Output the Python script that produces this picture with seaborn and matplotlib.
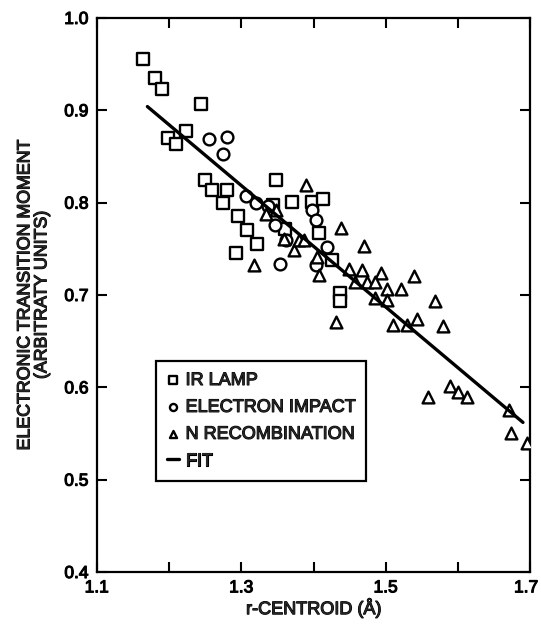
import numpy as np
import pandas as pd
import matplotlib
matplotlib.use('Agg')
import matplotlib.pyplot as plt
import matplotlib.patheffects as pe
import matplotlib.transforms as mtrans
import seaborn as sb

# IR lamp points (squares)
ir_x = [1.164, 1.180, 1.190, 1.244, 1.223, 1.198, 1.210, 1.250, 1.260, 1.280,
        1.274, 1.295, 1.308, 1.322, 1.292, 1.348, 1.370, 1.344, 1.360, 1.398,
        1.413, 1.408, 1.426, 1.437, 1.437]
ir_y = [0.955, 0.935, 0.923, 0.907, 0.878, 0.870, 0.863, 0.825, 0.814, 0.814,
        0.800, 0.785, 0.770, 0.755, 0.745, 0.824, 0.801, 0.797, 0.771, 0.801,
        0.804, 0.767, 0.738, 0.702, 0.694]

# electron impact points (circles)
ei_x = [1.255, 1.280, 1.275, 1.306, 1.320, 1.346, 1.354, 1.362, 1.398, 1.403,
        1.419, 1.404, 1.337]
ei_y = [0.869, 0.871, 0.853, 0.807, 0.800, 0.776, 0.733, 0.760, 0.792, 0.781,
        0.752, 0.732, 0.796]

# N recombination points (triangles)
nr_x = [1.334, 1.348, 1.390, 1.318, 1.359, 1.373, 1.380, 1.387, 1.405, 1.408,
        1.438, 1.470, 1.449, 1.467, 1.458, 1.493, 1.474, 1.485, 1.502, 1.521,
        1.539, 1.485, 1.502, 1.568, 1.510, 1.529, 1.543, 1.579, 1.431, 1.559,
        1.589, 1.600, 1.612, 1.671, 1.674, 1.695]
nr_y = [0.788, 0.792, 0.819, 0.732, 0.761, 0.749, 0.760, 0.760, 0.741, 0.722,
        0.773, 0.753, 0.728, 0.727, 0.714, 0.724, 0.714, 0.714, 0.707, 0.706,
        0.720, 0.697, 0.695, 0.694, 0.668, 0.668, 0.674, 0.666, 0.671, 0.590,
        0.601, 0.595, 0.589, 0.575, 0.550, 0.540]

# linear fit end points
fit_x = [1.170, 1.690]
fit_y = [0.904, 0.562]

x_ticks = [1.1, 1.2, 1.3, 1.4, 1.5, 1.6, 1.7]
x_labels = ['1.1', '', '1.3', '', '1.5', '', '1.7']
y_ticks = [0.4, 0.5, 0.6, 0.7, 0.8, 0.9, 1.0]

sb.set_style('ticks')
plt.rcParams['font.family'] = ['Liberation Sans', 'DejaVu Sans']

# slightly heavier text, like the scanned original
heavy = [pe.withStroke(linewidth=0.8, foreground='black')]

fig = plt.figure(figsize=(5.41, 6.24), dpi=100)
ax = fig.add_axes([0.179, 0.0833, 0.801, 0.888])

style = dict(facecolor='white', edgecolor='black', linewidth=1.7, s=72, zorder=3)
sb.scatterplot(x=ir_x, y=ir_y, marker='s', label='IR LAMP', ax=ax, **style)
sb.scatterplot(x=ei_x, y=ei_y, marker='o', label='ELECTRON IMPACT', ax=ax, **style)
sb.scatterplot(x=nr_x, y=nr_y, marker='^', label='N RECOMBINATION', ax=ax, **style)
sb.lineplot(x=fit_x, y=fit_y, color='black', linewidth=2.4, label='FIT', ax=ax, zorder=4)

ax.set_xlim(1.1, 1.7)
ax.set_ylim(0.4, 1.0)
ax.set_xticks(x_ticks)
ax.set_xticklabels(x_labels)
ax.set_yticks(y_ticks)
ax.set_yticklabels([f'{v:.1f}' for v in y_ticks])
ax.tick_params(direction='in', length=7, width=1.5, labelsize=12.5, colors='black',
               top=True, right=True)
ax.tick_params(axis='x', pad=6)
ax.tick_params(axis='y', pad=6)
for sp in ax.spines.values():
    sp.set_linewidth(1.6)
    sp.set_color('black')
    sp.set_visible(True)

ax.set_xlabel('r-CENTROID (Å)', fontsize=13, labelpad=2)
ax.set_ylabel('ELECTRONIC TRANSITION MOMENT\n(ARBITRATY UNITS)', fontsize=12.8,
              labelpad=10, linespacing=1.0)

leg = ax.legend(loc='lower left', bbox_to_anchor=(0.136, 0.165), frameon=True,
                fancybox=False, edgecolor='black', fontsize=13, markerscale=0.6,
                handlelength=0.7, handletextpad=0.35, labelspacing=0.55,
                borderpad=0.6, borderaxespad=0)
leg.get_frame().set_linewidth(1.6)
leg.get_frame().set_alpha(1)

for t in ax.get_xticklabels() + ax.get_yticklabels() + leg.get_texts():
    t.set_path_effects(heavy)
ax.xaxis.label.set_path_effects(heavy)
ax.yaxis.label.set_path_effects(heavy)

# keep the last x label inside the figure edge
last = ax.get_xticklabels()[-1]
last.set_transform(last.get_transform() + mtrans.ScaledTranslation(-4 / 100, 0, fig.dpi_scale_trans))

fig.savefig('out.png', dpi=100)
